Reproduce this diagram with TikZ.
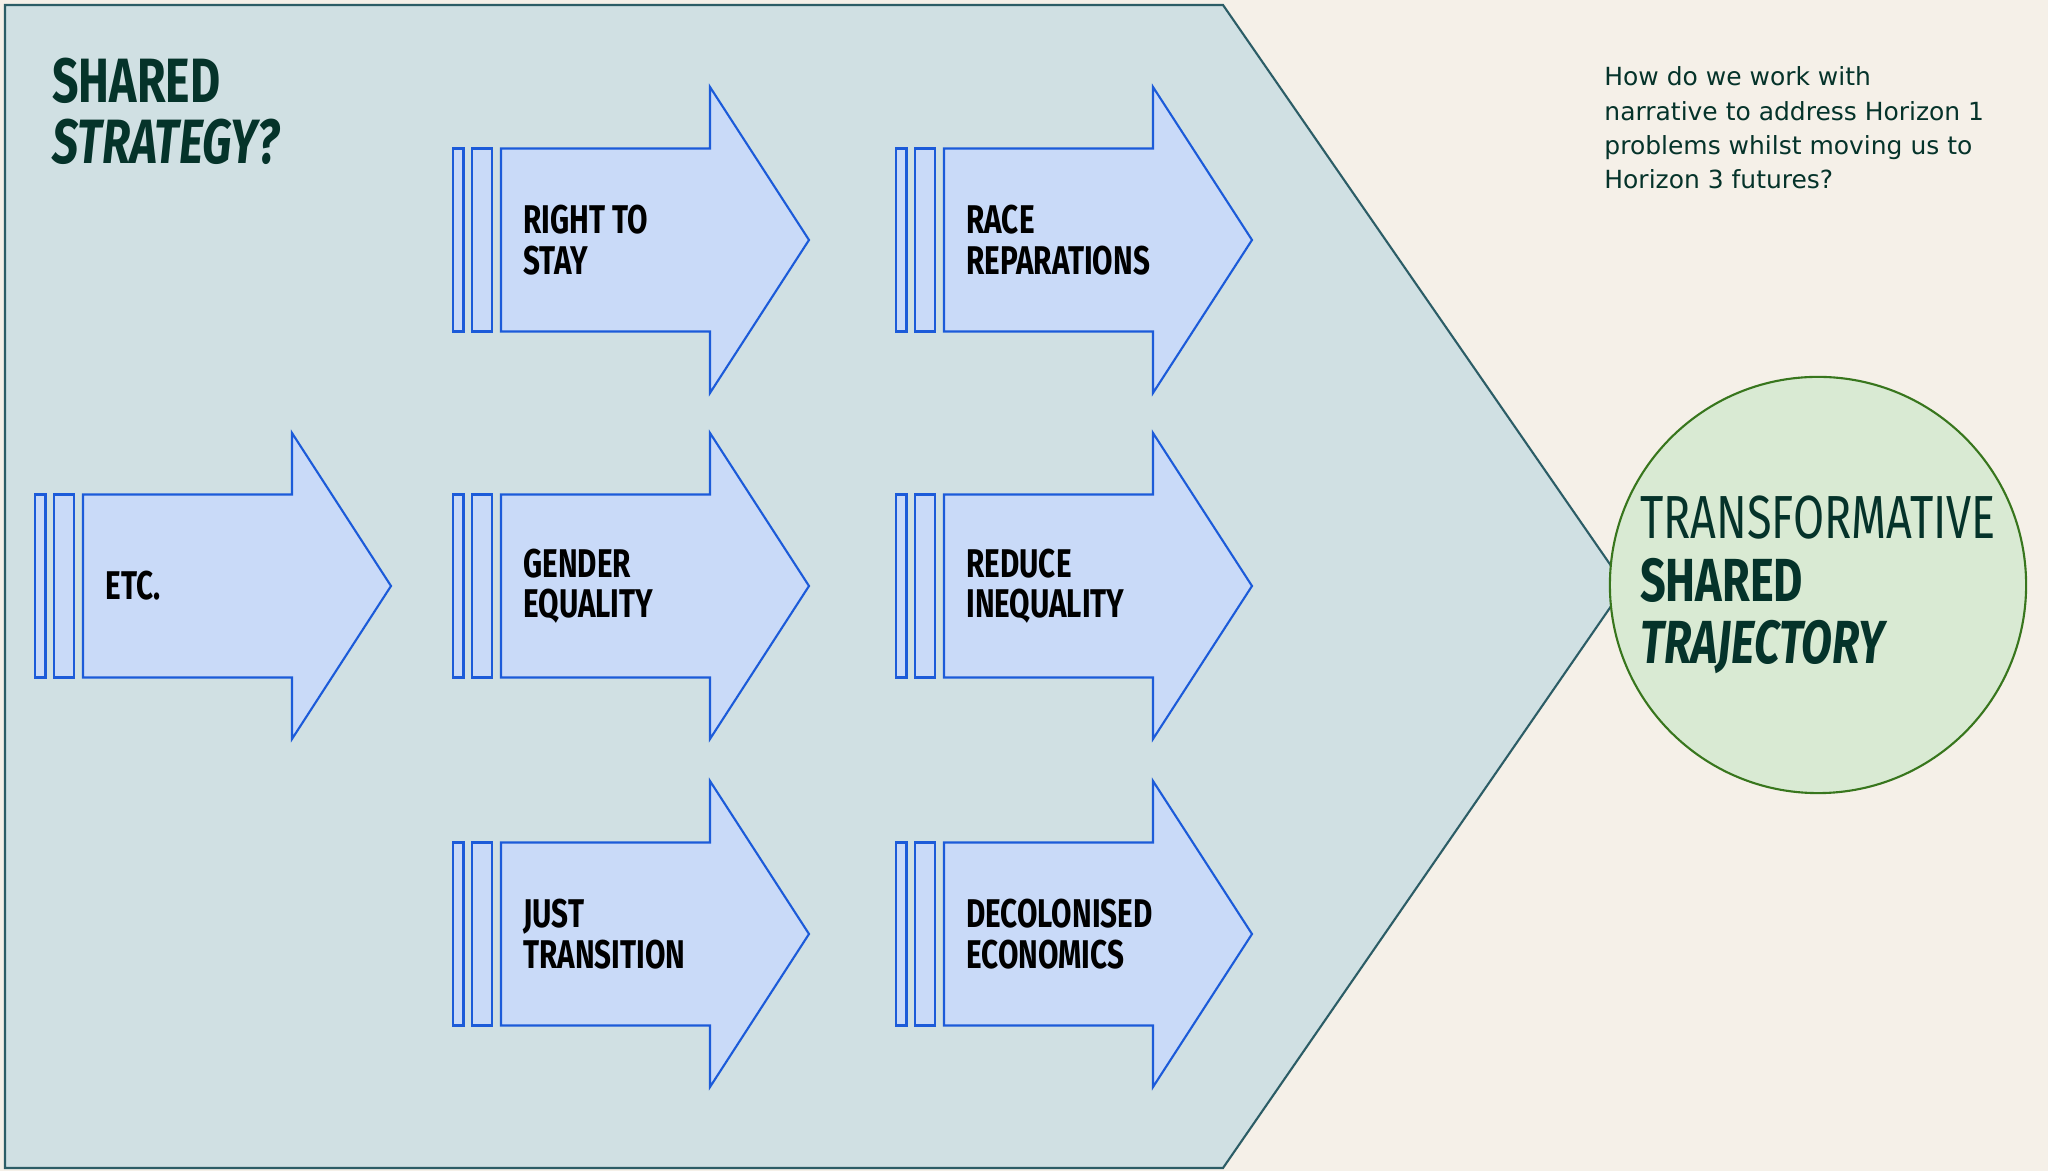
\documentclass[tikz,border=0pt]{standalone}
\usepackage{fontspec}
\setmainfont{Noto Sans}
\newfontfamily\oswald[FakeStretch=0.74]{Fira Sans}
\newfontfamily\askfont{DejaVu Sans}
\usepackage{tikz}

\definecolor{paper}{HTML}{F5F0E8}
\definecolor{field}{HTML}{D0E0E3}
\definecolor{fieldline}{HTML}{2C5D66}
\definecolor{strandfill}{HTML}{C9DAF8}
\definecolor{strandline}{HTML}{1C5BD9}
\definecolor{goalfill}{HTML}{D9EAD3}
\definecolor{goalline}{HTML}{38761D}
\definecolor{ink}{HTML}{05332A}

% #1 name, #2 x of tail, #3 y of centre, #4 label
\newcommand{\strandarrow}[4]{%
  \draw[strand] (#2,#3-91.5) rectangle ++(10.5,183);
  \draw[strand] (#2+19,#3-91.5) rectangle ++(20,183);
  \draw[strand] (#2+48,#3-91.5) -- (#2+257,#3-91.5) -- ++(0,-61.5)
    -- (#2+356,#3) -- (#2+257,#3+153) -- ++(0,-61.5) -- (#2+48,#3+91.5) -- cycle;
  \node(#1) [strandlabel] at (#2+58,#3) {#4};
}

\begin{document}
\begin{tikzpicture}[x=0.01cm, y=-0.01cm,
  strand/.style={draw=strandline, fill=strandfill, line width=0.6pt},
  strandlabel/.style={anchor=west, align=left, font=\oswald\bfseries\fontsize{11.4}{11.5}\selectfont}]
\fill[paper] (0,0) rectangle (2048,1171);
\useasboundingbox (0,0) rectangle (2048,1171);

% the field
\draw[fieldline, fill=field, line width=0.6pt] (5,5) -- (1223,5) -- (1625,586) -- (1223,1168) -- (5,1168) -- cycle;

\node(title) [anchor=base west, align=left, text=ink, font=\oswald\bfseries\fontsize{17.8}{17.6}\selectfont] at (40,164) {SHARED\\\textit{STRATEGY?}};

\strandarrow{stay}{453}{240}{RIGHT TO\\STAY}
\strandarrow{race}{896}{240}{RACE\\REPARATIONS}
\strandarrow{etc}{35}{586}{ETC.}
\strandarrow{gender}{453}{586}{GENDER\\EQUALITY}
\strandarrow{reduce}{896}{586}{REDUCE\\INEQUALITY}
\strandarrow{just}{453}{934}{JUST\\TRANSITION}
\strandarrow{decol}{896}{934}{DECOLONISED\\ECONOMICS}

\node(question) [anchor=base west, align=left, text=ink, font=\askfont\fontsize{7.1}{9.8}\selectfont] at (1592,189) {How do we work with\\narrative to address Horizon 1\\problems whilst moving us to\\Horizon 3 futures?};

\node(goal) [circle, draw=goalline, fill=goalfill, line width=0.6pt, minimum size=4.16cm, inner sep=0pt, align=left, text=ink, font=\oswald\fontsize{17.3}{17.8}\selectfont] at (1818,585) {TRANSFORMATIVE\\\textbf{SHARED}\\\textbf{\textit{TRAJECTORY}}};
\end{tikzpicture}
\end{document}
